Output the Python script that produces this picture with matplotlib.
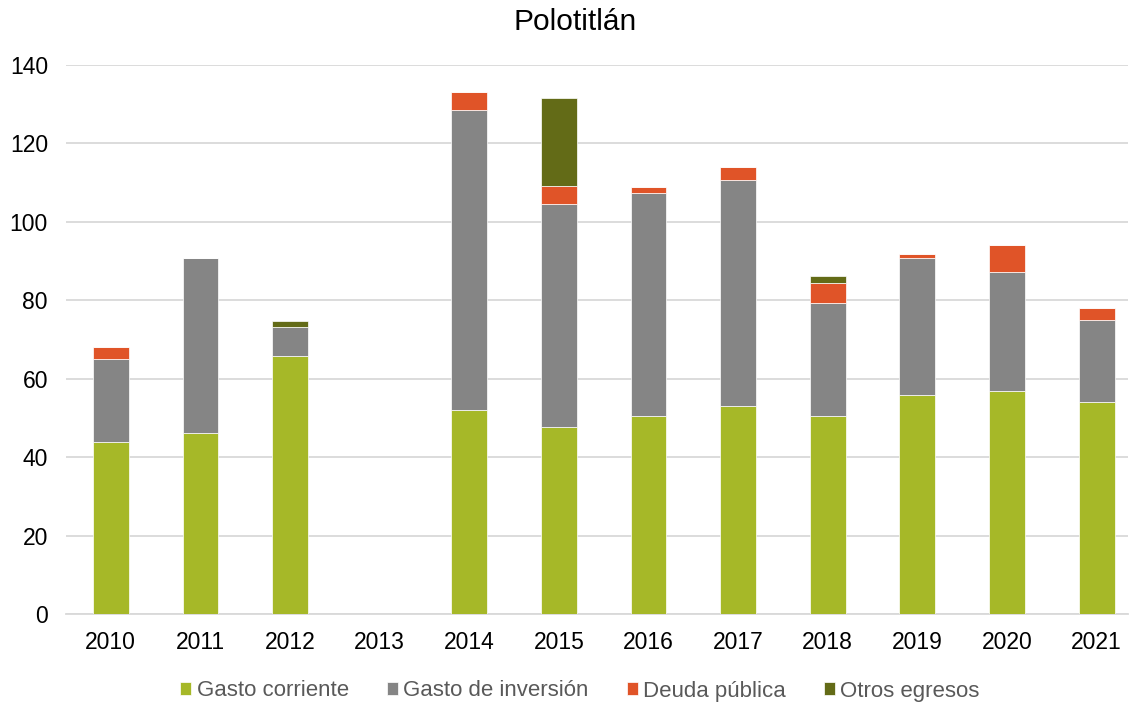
import matplotlib.pyplot as plt
import numpy as np

plt.rcParams['font.family'] = ['Liberation Sans', 'DejaVu Sans']

years = ["2010", "2011", "2012", "2013", "2014", "2015", "2016", "2017", "2018", "2019", "2020", "2021"]

gasto_corriente = [43.8, 46.1, 65.9, 0, 52.0, 47.6, 50.5, 53.1, 50.4, 55.8, 56.9, 54.0]
gasto_inversion = [21.2, 44.6, 7.2, 0, 76.5, 57.0, 56.8, 57.5, 28.8, 34.9, 30.2, 20.9]
deuda_publica = [3.0, 0.2, 0.1, 0, 4.6, 4.5, 1.5, 3.5, 5.1, 1.2, 6.9, 3.2]
otros_egresos = [0, 0, 1.6, 0, 0, 22.5, 0, 0, 2.0, 0, 0, 0]

series = [
    ("Gasto corriente", gasto_corriente, "#a6b828"),
    ("Gasto de inversión", gasto_inversion, "#858585"),
    ("Deuda pública", deuda_publica, "#e05428"),
    ("Otros egresos", otros_egresos, "#636b17"),
]

W, H = 1133, 708
fig = plt.figure(figsize=(W / 100, H / 100), dpi=100)
# plot area in pixels: left 66, right 1128, top 65, bottom 614
ax = fig.add_axes([66 / W, (H - 614) / H, (1128 - 66) / W, (614 - 65) / H])

x = np.arange(len(years))
bottom = np.zeros(len(years))
for name, vals, col in series:
    vals = np.array(vals, dtype=float)
    ax.bar(x, vals, 0.4, bottom=bottom, color=col, label=name,
           edgecolor="white", linewidth=0.5, zorder=3)
    bottom += vals

ax.set_xlim(-0.5, 11.35)
ax.set_ylim(0, 140)
ax.set_yticks(range(0, 141, 20))
ax.set_xticks(x)
ax.set_xticklabels(years)
ax.grid(axis="y", color="#d9d9d9", linewidth=1.3, zorder=0)
for s in ["top", "right", "left"]:
    ax.spines[s].set_visible(False)
ax.spines["bottom"].set_color("#d9d9d9")
ax.spines["bottom"].set_linewidth(1.3)
ax.tick_params(axis="both", length=0, labelsize=16.5, colors="#000000")
ax.tick_params(axis="x", pad=12)
ax.tick_params(axis="y", pad=13)

fig.text(575.5 / W, 1 - 30 / H, "Polotitlán", fontsize=21.5,
         ha="center", va="baseline")

handles, labels = ax.get_legend_handles_labels()
leg = fig.legend(handles, labels, loc="center", bbox_to_anchor=(580 / W, 1 - 691 / H),
                 ncol=4, frameon=False, fontsize=16, handlelength=0.5,
                 handleheight=0.5, handletextpad=0.25, columnspacing=1.7,
                 borderpad=0)
for t in leg.get_texts():
    t.set_color("#595959")

fig.savefig("out.png", dpi=100)
